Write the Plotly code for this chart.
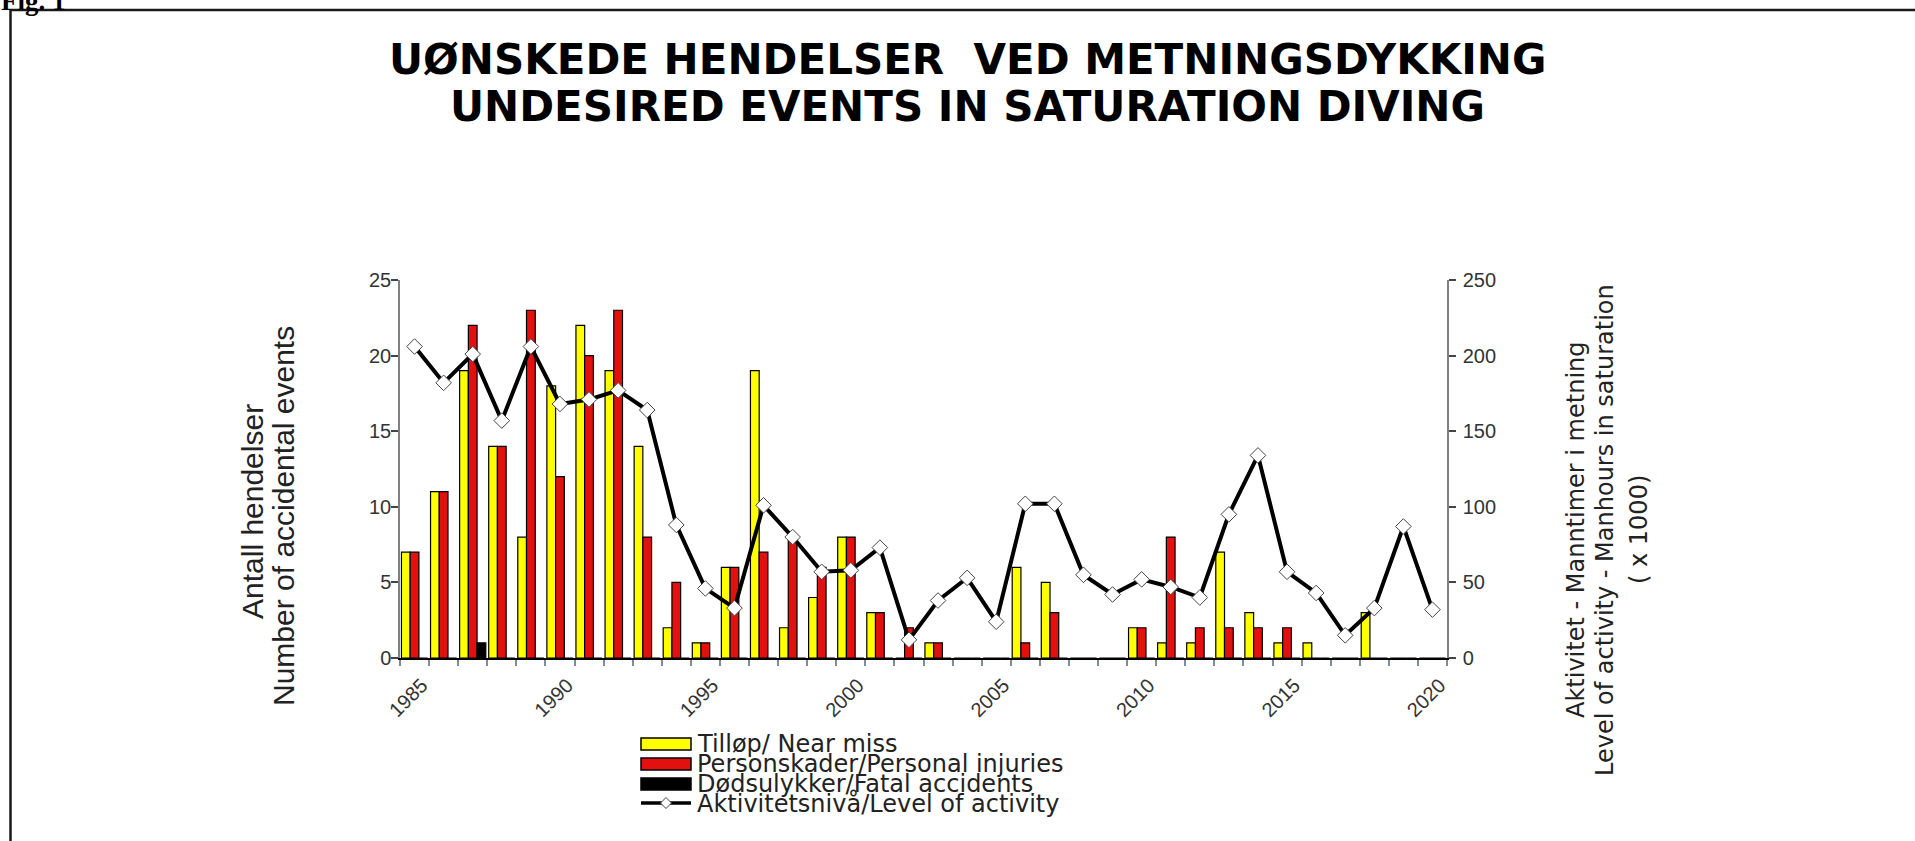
import plotly.graph_objects as go

# ---------------- data ----------------
years = [1985, 1986, 1987, 1988, 1989, 1990, 1991, 1992, 1993, 1994, 1995, 1996,
         1997, 1998, 1999, 2000, 2001, 2002, 2003, 2004, 2005, 2006, 2007, 2008,
         2009, 2010, 2011, 2012, 2013, 2014, 2015, 2016, 2017, 2018, 2019, 2020]
near_miss = [7, 11, 19, 14, 8, 18, 22, 19, 14, 2, 1, 6,
             19, 2, 4, 8, 3, 0, 1, 0, 0, 6, 5, 0,
             0, 2, 1, 1, 7, 3, 1, 1, 0, 3, 0, 0]
injuries = [7, 11, 22, 14, 23, 12, 20, 23, 8, 5, 1, 6,
            7, 8, 6, 8, 3, 2, 1, 0, 0, 1, 3, 0,
            0, 2, 8, 2, 2, 2, 2, 0, 0, 0, 0, 0]
fatal = [0, 0, 1, 0, 0, 0, 0, 0, 0, 0, 0, 0,
         0, 0, 0, 0, 0, 0, 0, 0, 0, 0, 0, 0,
         0, 0, 0, 0, 0, 0, 0, 0, 0, 0, 0, 0]
activity = [206, 182, 201, 157, 206, 168, 171, 177, 164, 88, 46, 33,
            101, 80, 57, 58, 73, 12, 38, 53, 24, 102, 102, 55,
            42, 52, 47, 40, 95, 134, 57, 43, 15, 33, 87, 32]
x_tick_labels = [1985, 1990, 1995, 2000, 2005, 2010, 2015, 2020]

names = ["Tilløp/ Near miss", "Personskader/Personal injuries",
         "Dødsulykker/Fatal accidents", "Aktivitetsnivå/Level of activity"]
title_lines = ["UØNSKEDE HENDELSER  VED METNINGSDYKKING",
               "UNDESIRED EVENTS IN SATURATION DIVING"]
left_title = ["Antall hendelser", "Number of accidental events"]
right_title = ["Aktivitet - Manntimer i metning",
               "Level of activity - Manhours in saturation", "( x 1000)"]

# ---------------- layout helpers (pixel -> paper) ----------------
W, H = 1915, 841
L, R, T, B = 400, 1447, 280, 658


def px(x):
    return (x - L) / (R - L)


def py(y):
    return (B - y) / (B - T)


YEL, RED, BLK = "#FFFF00", "#E31010", "#000000"
TICK_FONT = dict(family="Liberation Sans, Arial", size=20, color="#333333")

fig = go.Figure()
fig.add_bar(x=years, y=near_miss, name=names[0],
            marker=dict(color=YEL, line=dict(color="black", width=1.2)))
fig.add_bar(x=years, y=injuries, name=names[1],
            marker=dict(color=RED, line=dict(color="black", width=1.2)))
fig.add_bar(x=years, y=fatal, name=names[2],
            marker=dict(color=BLK, line=dict(color="black", width=1.2)))
fig.add_scatter(x=years, y=activity, yaxis="y2", name=names[3],
                mode="lines+markers",
                line=dict(color="black", width=4),
                marker=dict(symbol="diamond", size=12, color="white",
                            line=dict(color="#444444", width=1)))

annotations = []
# "Fig. 1" cut off at the top
annotations.append(dict(text="<b>Fig. 1</b>", xref="paper", yref="paper",
                        x=px(-1), y=py(18), xanchor="left", yanchor="bottom",
                        showarrow=False,
                        font=dict(family="Liberation Serif", size=27, color="black")))
# title
for txt, yc in zip(title_lines, [60, 106]):
    annotations.append(dict(text=txt, xref="paper", yref="paper",
                            x=px(967), y=py(yc), xanchor="center", yanchor="middle",
                            showarrow=False,
                            font=dict(family="DejaVu Sans", size=42, color="black",
                                      weight="bold")))
# left axis title
for txt, xc, yc in zip(left_title, [252, 283], [512, 516]):
    annotations.append(dict(text=txt, xref="paper", yref="paper",
                            x=px(xc), y=py(yc), xanchor="center", yanchor="middle",
                            textangle=-90, showarrow=False,
                            font=dict(family="Liberation Sans, Arial", size=30,
                                      color="#222222")))
# right axis title
for txt, xc in zip(right_title, [1576, 1605, 1639]):
    annotations.append(dict(text=txt, xref="paper", yref="paper",
                            x=px(xc), y=py(530), xanchor="center", yanchor="middle",
                            textangle=-90, showarrow=False,
                            font=dict(family="DejaVu Sans", size=24, color="#222222")))

# custom legend
shapes = []
rows = [744, 764, 784, 803]
for i, (nm, col) in enumerate(zip(names[:3], [YEL, RED, BLK])):
    shapes.append(dict(type="rect", xref="paper", yref="paper",
                       x0=px(641), x1=px(691), y0=py(rows[i] - 6), y1=py(rows[i] + 6),
                       fillcolor=col, line=dict(color="black", width=1.5)))
shapes.append(dict(type="line", xref="paper", yref="paper",
                   x0=px(641), x1=px(691), y0=py(rows[3]), y1=py(rows[3]),
                   line=dict(color="black", width=3.5)))
dx, dy = 5.5, 5.5
cx, cy = 666, rows[3]
shapes.append(dict(type="path", xref="paper", yref="paper",
                   path=(f"M {px(cx - dx)} {py(cy)} L {px(cx)} {py(cy - dy)} "
                         f"L {px(cx + dx)} {py(cy)} L {px(cx)} {py(cy + dy)} Z"),
                   fillcolor="white", line=dict(color="#444444", width=1)))
for i, nm in enumerate(names):
    annotations.append(dict(text=nm, xref="paper", yref="paper",
                            x=px(695), y=py(rows[i]), xanchor="left", yanchor="middle",
                            showarrow=False,
                            font=dict(family="DejaVu Sans", size=24, color="#222222")))

# outer frame
shapes.append(dict(type="rect", xref="paper", yref="paper",
                   x0=px(10.5), x1=px(1940), y0=py(870), y1=py(10),
                   line=dict(color="#1a1a1a", width=2.5), fillcolor="rgba(0,0,0,0)"))

fig.update_layout(
    width=W, height=H, autosize=False,
    margin=dict(l=L, r=W - R, t=T, b=H - B, pad=0),
    paper_bgcolor="white", plot_bgcolor="white",
    barmode="group", bargap=0.1, bargroupgap=0,
    showlegend=False,
    annotations=annotations, shapes=shapes,
    xaxis=dict(range=[1984.5, 2020.5], tickmode="array",
               tickvals=[v + 0.25 for v in x_tick_labels],
               ticktext=[str(v) for v in x_tick_labels],
               ticks="", tickangle=-45, ticklabelstandoff=6,
               tickfont=dict(family="Liberation Sans, Arial", size=20, color="#333333"),
               showline=True, linecolor="black", linewidth=1.5,
               showgrid=False, zeroline=False,
               minor=dict(tick0=1984.5, dtick=1, ticks="outside", ticklen=6,
                          tickwidth=1.5, tickcolor="#7f8c9a", showgrid=False)),
    yaxis=dict(range=[0, 25], tickmode="linear", tick0=0, dtick=5,
               ticks="outside", ticklen=7, tickwidth=1.5, tickcolor="#444444",
               showline=True, linecolor="#808080", linewidth=1.5,
               showgrid=False, zeroline=False, tickfont=TICK_FONT,
               ticklabelstandoff=-4),
    yaxis2=dict(range=[0, 250], tickmode="linear", tick0=0, dtick=50,
                overlaying="y", side="right",
                ticks="outside", ticklen=7, tickwidth=1.5, tickcolor="#444444",
                showline=True, linecolor="#808080", linewidth=1.5,
                showgrid=False, zeroline=False, tickfont=TICK_FONT,
                ticklabelstandoff=3),
)

fig.write_html("out.html",
               config={"displayModeBar": False},
               post_script="document.body.style.margin='0px';"
                           "document.body.style.overflow='hidden';")
